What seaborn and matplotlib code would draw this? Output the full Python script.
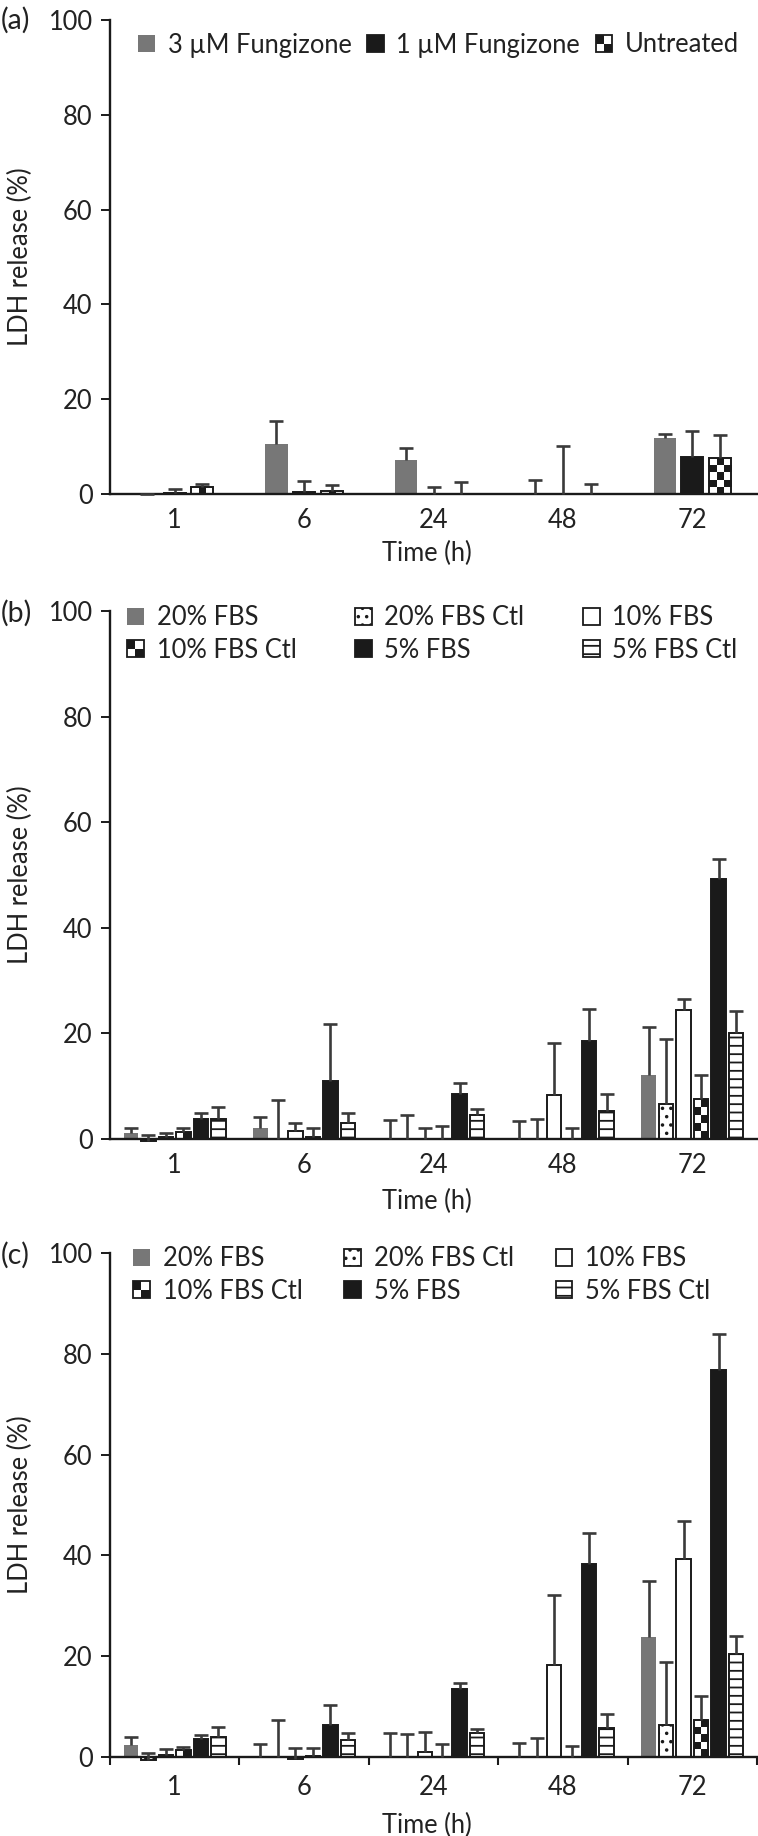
import numpy as np
import pandas as pd
import matplotlib
matplotlib.use("Agg")
import matplotlib.pyplot as plt
import seaborn as sns
from matplotlib.patches import Patch, Rectangle
from matplotlib.legend_handler import HandlerBase
from matplotlib.colors import ListedColormap
from matplotlib.container import BarContainer

# ---------------- data ----------------
times = ["1", "6", "24", "48", "72"]

a_series = ["3 µM Fungizone", "1 µM Fungizone", "Untreated"]
a_3uM = [0.1, 10.6, 7.2, 0.0, 11.8]
a_3uM_err = [0.0, 4.7, 2.4, 2.9, 0.8]
a_1uM = [0.2, 0.35, 0.0, 0.0, 7.9]
a_1uM_err = [0.8, 2.35, 1.4, 10.1, 5.3]
a_unt = [1.5, 0.6, 0.0, 0.0, 7.5]
a_unt_err = [0.7, 1.3, 2.6, 2.2, 4.9]

fbs_series = ["20% FBS", "20% FBS Ctl", "10% FBS", "10% FBS Ctl", "5% FBS", "5% FBS Ctl"]

b_20 = [1.07, 2.15, 0.0, 0.0, 12.1]
b_20_err = [1.1, 1.95, 3.6, 3.5, 9.2]
b_20c = [-0.4, 0.0, 0.0, 0.0, 6.6]
b_20c_err = [1.15, 7.3, 4.6, 3.7, 12.3]
b_10 = [0.45, 1.45, 0.0, 8.3, 24.5]
b_10_err = [0.75, 1.55, 2.0, 9.8, 2.1]
b_10c = [1.3, 0.45, 0.0, 0.0, 7.5]
b_10c_err = [0.8, 1.55, 2.5, 2.1, 4.7]
b_5 = [3.7, 10.9, 8.5, 18.6, 49.2]
b_5_err = [1.3, 10.8, 2.2, 6.1, 3.9]
b_5c = [3.7, 3.1, 4.6, 5.3, 20.0]
b_5c_err = [2.4, 1.8, 1.0, 3.3, 4.2]

c_20 = [2.45, 0.0, 0.0, 0.0, 23.8]
c_20_err = [1.45, 2.6, 4.8, 2.8, 11.1]
c_20c = [-0.5, 0.0, 0.0, 0.0, 6.4]
c_20c_err = [1.2, 7.3, 4.6, 3.7, 12.5]
c_10 = [0.4, -0.4, 0.9, 18.2, 39.3]
c_10_err = [1.1, 2.1, 4.1, 13.9, 7.6]
c_10c = [1.4, 0.2, 0.0, 0.0, 7.4]
c_10c_err = [0.5, 1.65, 2.5, 2.1, 4.8]
c_5 = [3.6, 6.3, 13.4, 38.2, 76.7]
c_5_err = [0.8, 4.0, 1.2, 6.3, 7.2]
c_5c = [3.9, 3.4, 4.8, 5.7, 20.4]
c_5c_err = [2.0, 1.4, 0.7, 2.8, 3.6]

yticks = [0, 20, 40, 60, 80, 100]

# ---------------- style ----------------
sns.set_style("ticks")
plt.rcParams["font.family"] = ["Lato", "DejaVu Sans"]
plt.rcParams["font.size"] = 18.4
plt.rcParams["hatch.linewidth"] = 1.3
TXT = "#222222"
plt.rcParams["text.color"] = TXT
plt.rcParams["axes.labelcolor"] = TXT
plt.rcParams["xtick.color"] = "#1a1a1a"
plt.rcParams["ytick.color"] = "#1a1a1a"
plt.rcParams["xtick.labelcolor"] = TXT
plt.rcParams["ytick.labelcolor"] = TXT

GRAY = "#777777"
BLACK = "#1a1a1a"
ERR = "#3a3a3a"

st_gray = dict(face=GRAY, edge=GRAY, lw=0.0, hatch=None, checker=False)
st_black = dict(face=BLACK, edge=BLACK, lw=1.4, hatch=None, checker=False)
st_white = dict(face="white", edge=BLACK, lw=1.4, hatch=None, checker=False)
st_dots = dict(face="white", edge=BLACK, lw=1.4, hatch="..", checker=False)
st_lines = dict(face="white", edge=BLACK, lw=1.4, hatch="--", checker=False)
st_check = dict(face="none", edge=BLACK, lw=1.4, hatch=None, checker=True)

a_styles = [st_gray, st_black, st_check]
fbs_styles = [st_gray, st_dots, st_white, st_check, st_black, st_lines]

W, H = 758, 1836
fig = plt.figure(figsize=(W / 100, H / 100), dpi=100)
AX_L, AX_R = 110, 757
YMIN = -2.0
XPX = (AX_R - AX_L) / 5.0
checker_cmap = ListedColormap(["white", BLACK])


def make_ax(top_px, zero_px):
    p = (zero_px - top_px) / 100.0
    bottom_px = zero_px + (-YMIN) * p
    ax = fig.add_axes([AX_L / W, 1 - bottom_px / H, (AX_R - AX_L) / W,
                       (bottom_px - top_px) / H])
    return ax, p, bottom_px - top_px


def draw_panel(ax, ppu, axh, series, values, errs, styles, width, gap,
               checker_cols, boundary_ticks, xlab_off, xpad):
    df = pd.DataFrame({
        "time": np.tile(times, len(series)),
        "series": np.repeat(series, len(times)),
        "value": np.concatenate([np.asarray(v, float) for v in values]),
    })
    pal = {s: (st["face"] if st["face"] != "none" else "white")
           for s, st in zip(series, styles)}
    sns.barplot(data=df, x="time", y="value", hue="series", order=times,
                hue_order=series, palette=pal, width=width, gap=gap,
                errorbar=None, legend=False, saturation=1, ax=ax)
    ax.set_xlim(-0.5, 4.5)
    ax.set_ylim(YMIN, 100)
    bar_conts = [c for c in ax.containers if isinstance(c, BarContainer)]
    for i, cont in enumerate(bar_conts):
        st = styles[i]
        patches = sorted(cont.patches, key=lambda p: p.get_x())
        xs, ys = [], []
        for p in patches:
            p.set_facecolor(st["face"])
            p.set_edgecolor(st["edge"])
            p.set_linewidth(st["lw"])
            p.set_zorder(2)
            if st["hatch"]:
                p.set_hatch(st["hatch"])
            xs.append(p.get_x() + p.get_width() / 2)
            ys.append(p.get_y() + p.get_height())
            if st["checker"]:
                hh = abs(p.get_height())
                h_px = hh * ppu
                w_px = p.get_width() * XPX
                if h_px >= 2:
                    cell = w_px / checker_cols
                    nrow = max(1, int(round(h_px / cell)))
                    arr = np.add.outer(np.arange(nrow), np.arange(checker_cols)) % 2
                    y0 = min(p.get_y(), p.get_y() + p.get_height())
                    im = ax.imshow(arr, cmap=checker_cmap, vmin=0, vmax=1,
                                   extent=(p.get_x(), p.get_x() + p.get_width(),
                                           y0, y0 + hh),
                                   origin="upper", interpolation="nearest",
                                   aspect="auto", zorder=1.5)
                    im.set_clip_path(p)
        eb = ax.errorbar(xs, ys, yerr=[np.zeros(len(xs)), errs[i]], fmt="none",
                         ecolor=ERR, elinewidth=1.9, capsize=4.7, capthick=1.9,
                         zorder=3)
        eb.lines[1][0].set_visible(False)
    ax.set_xlim(-0.5, 4.5)
    ax.set_ylim(YMIN, 100)
    ax.set_aspect("auto")

    for s in ["top", "right"]:
        ax.spines[s].set_visible(False)
    ax.spines["bottom"].set_position(("data", 0))
    ax.spines["left"].set_bounds(0, 100)
    for s in ["left", "bottom"]:
        ax.spines[s].set_linewidth(1.7)
        ax.spines[s].set_color(BLACK)
    ax.set_yticks(yticks)
    ax.set_yticklabels([str(t) for t in yticks])
    ax.tick_params(axis="y", length=6.5, width=1.4, pad=6, direction="out")
    ax.set_xticks(range(len(times)))
    ax.set_xticklabels(times)
    ax.tick_params(axis="x", which="major", length=0, pad=xpad)
    if boundary_ticks:
        ax.set_xticks(np.arange(-0.5, 5.0, 1.0), minor=True)
        ax.tick_params(axis="x", which="minor", length=6, width=1.5,
                       direction="out")
    ax.set_xlabel("Time (h)")
    zero_frac = (0 - YMIN) / (100 - YMIN)
    ax.xaxis.set_label_coords(0.49, zero_frac - xlab_off / axh)
    ax.xaxis.label.set_va("center")
    ax.set_ylabel("LDH release (%)")
    ax.yaxis.set_label_coords((20 - AX_L) / (AX_R - AX_L),
                              (50 - YMIN) / (100 - YMIN))
    ax.yaxis.label.set_va("center")


class CheckerHandler(HandlerBase):
    def create_artists(self, legend, orig_handle, xdescent, ydescent, width,
                       height, fontsize, trans):
        x0, y0 = -xdescent, -ydescent
        n = 2
        cw, ch = width / n, height / n
        arts = []
        for i in range(n):
            for j in range(n):
                if (i + j) % 2 == 0:
                    arts.append(Rectangle((x0 + i * cw, y0 + (n - 1 - j) * ch),
                                          cw, ch, facecolor=BLACK,
                                          edgecolor="none", transform=trans))
        arts.append(Rectangle((x0, y0), width, height, facecolor="none",
                              edgecolor=BLACK, lw=1.3, transform=trans))
        return arts


def legend_handles(series, styles):
    hs, hmap = [], {}
    for s, st in zip(series, styles):
        h = Patch(facecolor=("white" if st["checker"] else st["face"]),
                  edgecolor=st["edge"], linewidth=min(st["lw"], 1.3),
                  hatch=st["hatch"], label=s)
        hs.append(h)
        if st["checker"]:
            hmap[h] = CheckerHandler()
    return hs, hmap


def add_legend(ax, series, styles, x_px, y_px, ncol, colspace):
    hs, hmap = legend_handles(series, styles)
    labels = list(series)
    if ncol < len(hs):
        nrow = int(np.ceil(len(hs) / ncol))
        order = [r * ncol + c for c in range(ncol) for r in range(nrow)]
        hs = [hs[k] for k in order]
        labels = [labels[k] for k in order]
    ax.legend(hs, labels, handler_map=hmap, ncol=ncol, frameon=False,
              loc="center left", bbox_to_anchor=(x_px / W, 1 - y_px / H),
              bbox_transform=fig.transFigure, borderpad=0, borderaxespad=0,
              handlelength=0.66, handleheight=0.66, handletextpad=0.5,
              columnspacing=colspace, labelspacing=0.3, fontsize=18.4)


# ---------------- panel a ----------------
ax_a, ppu_a, axh_a = make_ax(20, 494)
draw_panel(ax_a, ppu_a, axh_a, a_series, [a_3uM, a_1uM, a_unt],
           [a_3uM_err, a_1uM_err, a_unt_err], a_styles, width=0.64, gap=0.2,
           checker_cols=3, boundary_ticks=False, xlab_off=59, xpad=10)
add_legend(ax_a, a_series, a_styles, 138, 45, ncol=3, colspace=0.6)

# ---------------- panel b ----------------
ax_b, ppu_b, axh_b = make_ax(611, 1139)
draw_panel(ax_b, ppu_b, axh_b, fbs_series, [b_20, b_20c, b_10, b_10c, b_5, b_5c],
           [b_20_err, b_20c_err, b_10_err, b_10c_err, b_5_err, b_5c_err],
           fbs_styles, width=0.81, gap=0.17, checker_cols=2,
           boundary_ticks=False, xlab_off=62, xpad=10)
add_legend(ax_b, fbs_series, fbs_styles, 127, 634, ncol=3, colspace=2.28)

# ---------------- panel c ----------------
ax_c, ppu_c, axh_c = make_ax(1253, 1757)
draw_panel(ax_c, ppu_c, axh_c, fbs_series, [c_20, c_20c, c_10, c_10c, c_5, c_5c],
           [c_20_err, c_20c_err, c_10_err, c_10c_err, c_5_err, c_5c_err],
           fbs_styles, width=0.81, gap=0.17, checker_cols=2,
           boundary_ticks=True, xlab_off=68, xpad=13)
add_legend(ax_c, fbs_series, fbs_styles, 133, 1275, ncol=3, colspace=1.63)

# panel letters
for lab, top_px in [("(a)", 20), ("(b)", 613), ("(c)", 1255)]:
    fig.text(1 / W, 1 - top_px / H, lab, ha="left", va="center", fontsize=20.5,
             color=TXT)

fig.savefig("out.png", dpi=100)
